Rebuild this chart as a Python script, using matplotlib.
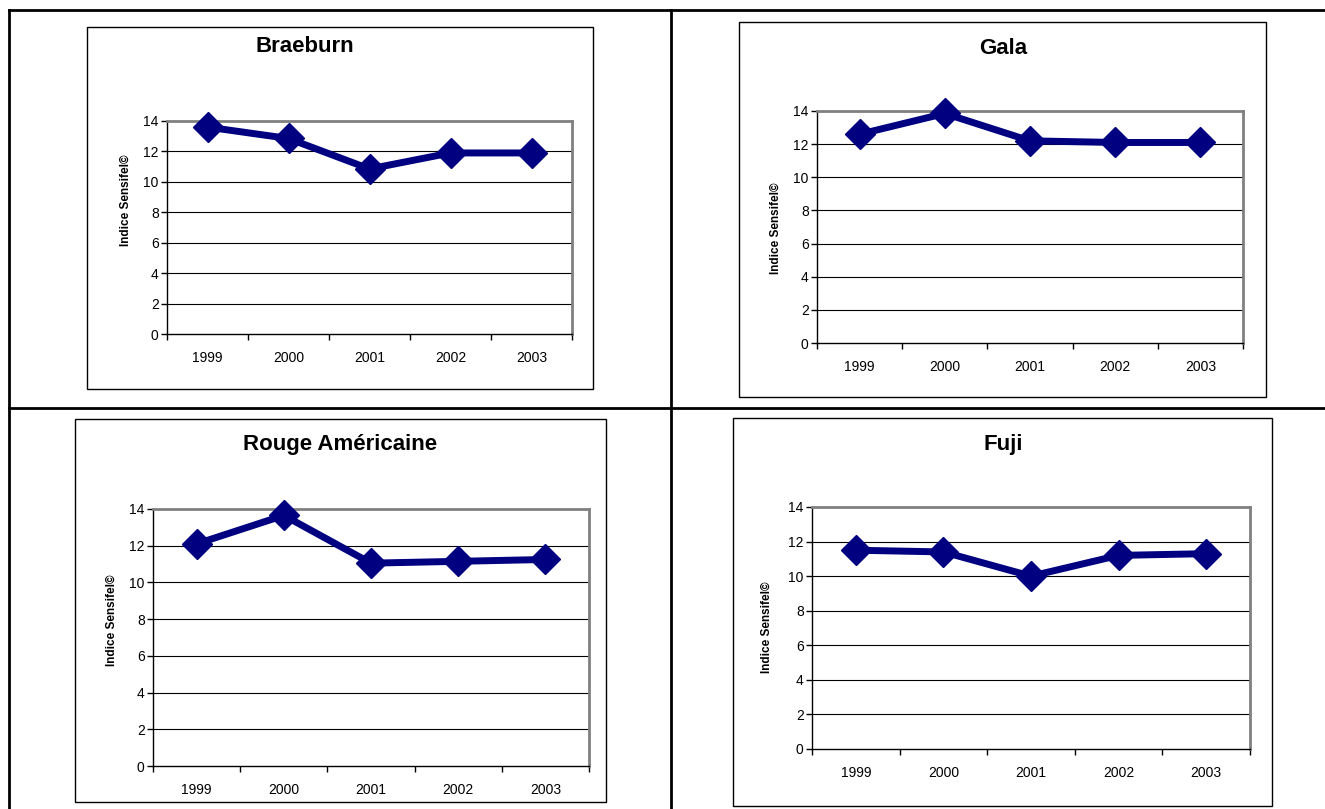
import matplotlib
matplotlib.use("Agg")
from matplotlib import pyplot as plt
from matplotlib.patches import Rectangle
from matplotlib.lines import Line2D
import numpy as np

# Data
years = ["1999", "2000", "2001", "2002", "2003"]
titles = ["Braeburn", "Gala", "Rouge Américaine", "Fuji"]
braeburn = [13.6, 12.85, 10.85, 11.9, 11.9]
gala = [12.6, 13.85, 12.2, 12.1, 12.1]
rouge_americaine = [12.1, 13.65, 11.05, 11.15, 11.25]
fuji = [11.5, 11.4, 10.0, 11.2, 11.3]
series = [braeburn, gala, rouge_americaine, fuji]
y_ticks = [0, 2, 4, 6, 8, 10, 12, 14]
y_label = "Indice Sensifel©"

W, H = 1325, 809
plt.rcParams["font.family"] = ["Liberation Sans", "DejaVu Sans"]

fig = plt.figure(figsize=(W / 100, H / 100), dpi=100)


def fx(px):
    return px / W


def fy(py):
    return 1 - py / H


# Pixel layout: chart box, plot area, title centre, y label centre
layout = [
    dict(box=(87, 27, 593, 389), plot=(167, 121, 572, 334), title=(305, 47), ylab=(126, 200)),
    dict(box=(739, 22, 1266, 397), plot=(817, 111, 1243, 343), title=(1003, 48), ylab=(776, 228)),
    dict(box=(75, 419, 606, 802), plot=(153, 509, 589, 766), title=(340, 445), ylab=(112, 620)),
    dict(box=(733, 418, 1272, 806), plot=(812, 507, 1250, 749), title=(1003, 445), ylab=(767, 627)),
]

# Table lines
tbl = dict(color="black", linewidth=2, transform=fig.transFigure)
fig.add_artist(Line2D([fx(9), 1], [fy(10), fy(10)], **tbl))
fig.add_artist(Line2D([fx(9), 1], [fy(408), fy(408)], **tbl))
fig.add_artist(Line2D([fx(9), fx(9)], [fy(10), 0], **tbl))
fig.add_artist(Line2D([fx(671), fx(671)], [fy(10), 0], **tbl))

x = np.arange(len(years)) + 0.5

for name, values, lay in zip(titles, series, layout):
    bx0, by0, bx1, by1 = lay["box"]
    fig.add_artist(Rectangle((fx(bx0), fy(by1)), fx(bx1 - bx0), (by1 - by0) / H,
                             transform=fig.transFigure, fill=False,
                             edgecolor="black", linewidth=1))

    px0, py0, px1, py1 = lay["plot"]
    ax = fig.add_axes([fx(px0), fy(py1), fx(px1 - px0), (py1 - py0) / H])
    ax.set_xlim(0, len(years))
    ax.set_ylim(0, 14)

    for v in y_ticks[1:-1]:
        ax.axhline(v, color="black", linewidth=0.8, zorder=1)

    ax.plot(x, values, color="#000080", linewidth=5, marker="D",
            markersize=15, zorder=3, clip_on=False)

    ax.spines["left"].set_color("black")
    ax.spines["bottom"].set_color("black")
    ax.spines["left"].set_linewidth(1)
    ax.spines["bottom"].set_linewidth(1)
    ax.spines["top"].set_color("#808080")
    ax.spines["right"].set_color("#808080")
    ax.spines["top"].set_linewidth(2)
    ax.spines["right"].set_linewidth(2)
    for s in ax.spines.values():
        s.set_zorder(2)

    ax.set_yticks(y_ticks)
    ax.set_yticklabels([str(v) for v in y_ticks], fontsize=10)
    ax.tick_params(axis="y", direction="out", length=4, width=1, pad=2)

    ax.set_xticks(x)
    ax.set_xticklabels(years, fontsize=10)
    ax.set_xticks(np.arange(len(years) + 1), minor=True)
    ax.tick_params(axis="x", which="major", length=0, pad=12)
    ax.tick_params(axis="x", which="minor", direction="out", length=4, width=1)

    tx, ty = lay["title"]
    fig.text(fx(tx), fy(ty), name, ha="center", va="center",
             fontsize=16, fontweight="bold")
    lx, ly = lay["ylab"]
    fig.text(fx(lx), fy(ly), y_label, ha="center", va="center",
             rotation=90, fontsize=8.5, fontweight="bold")

fig.savefig("out.png", dpi=100)
